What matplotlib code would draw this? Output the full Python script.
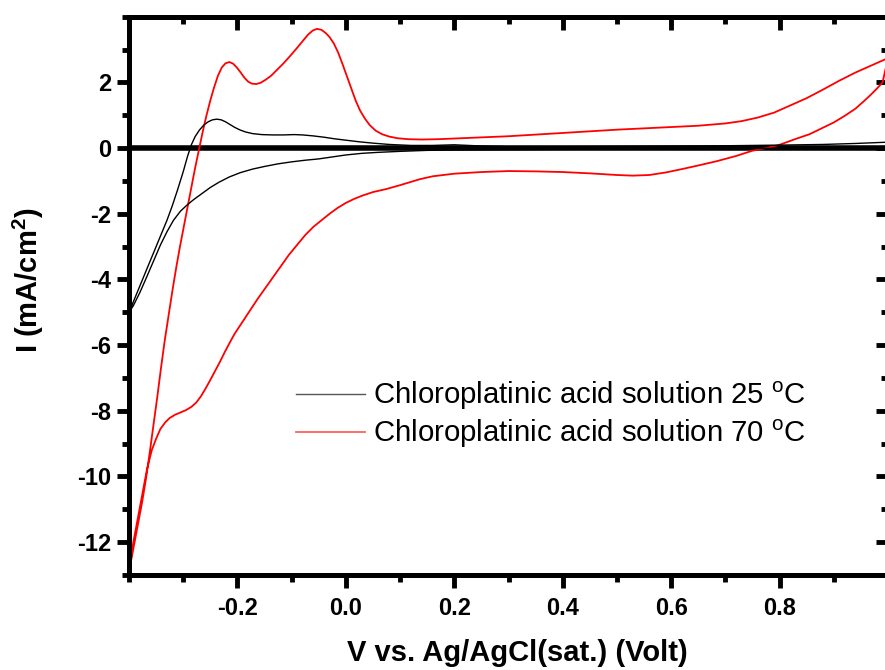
import matplotlib
matplotlib.use("Agg")
import matplotlib.pyplot as plt
from matplotlib.ticker import MultipleLocator, FixedLocator

plt.rcParams['font.family'] = ['Liberation Sans', 'DejaVu Sans']
plt.rcParams['mathtext.fontset'] = 'custom'
plt.rcParams['mathtext.rm'] = 'Liberation Sans'
plt.rcParams['mathtext.bf'] = 'Liberation Sans:bold'
plt.rcParams['mathtext.it'] = 'Liberation Sans:italic'
plt.rcParams['axes.unicode_minus'] = False

# 25 C curve, anodic sweep (-0.4 -> 1.0)
black_fwd_v = [-0.400, -0.390, -0.380, -0.370, -0.360, -0.350, -0.340, -0.330, -0.320, -0.310,
               -0.300, -0.292, -0.285, -0.278, -0.270, -0.262, -0.254, -0.246, -0.238, -0.230,
               -0.222, -0.214, -0.205, -0.195, -0.185, -0.172, -0.155, -0.135, -0.115, -0.095,
               -0.080, -0.060, -0.040, -0.020, 0.000, 0.025, 0.050, 0.080, 0.120, 0.160,
               0.200, 0.240, 0.300, 0.400, 0.500, 0.600, 0.700, 0.800, 0.880, 0.940, 1.000]
black_fwd_i = [-5.0, -4.6, -4.2, -3.8, -3.4, -3.0, -2.6, -2.2, -1.75, -1.25,
               -0.72, -0.25, 0.1, 0.35, 0.55, 0.7, 0.8, 0.86, 0.88, 0.86,
               0.8, 0.72, 0.63, 0.55, 0.49, 0.44, 0.41, 0.40, 0.40, 0.41,
               0.40, 0.37, 0.33, 0.28, 0.24, 0.19, 0.15, 0.11, 0.08, 0.08,
               0.10, 0.07, 0.04, 0.04, 0.05, 0.06, 0.07, 0.09, 0.11, 0.14, 0.18]
# 25 C curve, cathodic sweep (1.0 -> -0.4)
black_rev_v = [1.000, 0.900, 0.800, 0.600, 0.400, 0.300, 0.200, 0.150, 0.100, 0.060,
               0.030, 0.000, -0.025, -0.050, -0.075, -0.100, -0.125, -0.150, -0.172, -0.195,
               -0.215, -0.234, -0.250, -0.265, -0.280, -0.292, -0.305, -0.318, -0.330, -0.342,
               -0.355, -0.368, -0.380, -0.392, -0.400]
black_rev_i = [0.05, 0.0, -0.01, -0.02, -0.04, -0.05, -0.06, -0.07, -0.10, -0.13,
               -0.16, -0.21, -0.27, -0.33, -0.37, -0.42, -0.48, -0.56, -0.64, -0.75,
               -0.88, -1.04, -1.2, -1.38, -1.56, -1.72, -1.92, -2.2, -2.55, -2.95,
               -3.45, -3.95, -4.4, -4.8, -5.0]

# 70 C curve, anodic sweep
red_fwd_v = [-0.400, -0.392, -0.384, -0.376, -0.369, -0.362, -0.355, -0.348, -0.341, -0.334,
             -0.327, -0.320, -0.313, -0.306, -0.299, -0.292, -0.285, -0.278, -0.271, -0.264,
             -0.257, -0.250, -0.243, -0.236, -0.229, -0.222, -0.215, -0.208, -0.201, -0.194,
             -0.187, -0.180, -0.173, -0.165, -0.157, -0.148, -0.138, -0.127, -0.115, -0.103,
             -0.091, -0.080, -0.070, -0.061, -0.053, -0.045, -0.037, -0.030, -0.022, -0.014,
             -0.006, 0.002, 0.010, 0.018, 0.026, 0.035, 0.044, 0.055, 0.067, 0.080,
             0.095, 0.115, 0.140, 0.170, 0.200, 0.250, 0.300, 0.350, 0.400, 0.450,
             0.500, 0.550, 0.600, 0.650, 0.700, 0.730, 0.760, 0.790, 0.820, 0.850,
             0.880, 0.910, 0.940, 0.970, 1.000]
red_fwd_i = [-12.9, -12.2, -11.5, -10.8, -10.1, -9.3, -8.45, -7.6, -6.7, -5.85,
             -5.1, -4.35, -3.65, -3.0, -2.4, -1.8, -1.2, -0.6, -0.05, 0.5,
             1.0, 1.45, 1.85, 2.2, 2.45, 2.58, 2.62, 2.57, 2.45, 2.3,
             2.14, 2.02, 1.96, 1.95, 1.99, 2.08, 2.2, 2.38, 2.58, 2.8,
             3.03, 3.25, 3.45, 3.58, 3.63, 3.6, 3.5, 3.38, 3.18, 2.9,
             2.55, 2.18, 1.8, 1.45, 1.15, 0.9, 0.7, 0.53, 0.42, 0.35,
             0.30, 0.27, 0.26, 0.27, 0.29, 0.32, 0.36, 0.41, 0.46, 0.51,
             0.56, 0.60, 0.64, 0.68, 0.75, 0.82, 0.93, 1.08, 1.3, 1.52,
             1.78, 2.05, 2.3, 2.52, 2.74]
# 70 C curve, cathodic sweep
red_rev_v = [0.990, 0.980, 0.968, 0.955, 0.940, 0.920, 0.900, 0.880, 0.855, 0.830,
             0.800, 0.776, 0.750, 0.720, 0.684, 0.650, 0.620, 0.591, 0.560, 0.529,
             0.500, 0.450, 0.400, 0.350, 0.300, 0.250, 0.200, 0.160, 0.136, 0.100,
             0.074, 0.050, 0.030, 0.015, 0.000, -0.015, -0.030, -0.045, -0.060, -0.075,
             -0.090, -0.105, -0.120, -0.135, -0.150, -0.163, -0.175, -0.185, -0.195, -0.205,
             -0.215, -0.223, -0.232, -0.240, -0.248, -0.258, -0.267, -0.276, -0.285, -0.295,
             -0.305, -0.315, -0.325, -0.333, -0.342, -0.350, -0.358, -0.367, -0.375, -0.383,
             -0.392, -0.400]
red_rev_i = [2.0, 1.82, 1.62, 1.42, 1.2, 0.98, 0.78, 0.62, 0.42, 0.28,
             0.10, 0.0, -0.08, -0.24, -0.40, -0.53, -0.64, -0.74, -0.82, -0.84,
             -0.82, -0.77, -0.73, -0.71, -0.70, -0.73, -0.78, -0.86, -0.95, -1.13,
             -1.25, -1.34, -1.45, -1.55, -1.67, -1.82, -2.0, -2.2, -2.4, -2.65,
             -2.95, -3.25, -3.6, -3.95, -4.3, -4.6, -4.9, -5.15, -5.4, -5.65,
             -5.95, -6.2, -6.5, -6.75, -7.0, -7.3, -7.55, -7.75, -7.88, -7.98,
             -8.05, -8.12, -8.22, -8.35, -8.55, -8.85, -9.2, -9.8, -10.5, -11.2,
             -12.0, -12.9]

labels = ["Chloroplatinic acid solution 25 $^\\mathrm{o}$C",
          "Chloroplatinic acid solution 70 $^\\mathrm{o}$C"]

fig = plt.figure(figsize=(8.85, 6.7), dpi=100)
ax = fig.add_axes([129/885, 95/670, 759/885, 558.3/670])

ax.axhline(0, color='black', lw=4, zorder=1)
ax.plot(black_fwd_v + black_rev_v, black_fwd_i + black_rev_i, color='black', lw=1.0, zorder=3)
ax.plot(red_fwd_v + red_rev_v, red_fwd_i + red_rev_i, color='red', lw=1.3, zorder=2)

# legend handles only
h1, = ax.plot([], [], color='#555555', lw=1.0)
h2, = ax.plot([], [], color='#ff6060', lw=1.3)
ax.legend([h1, h2], labels, loc='upper left', bbox_to_anchor=(0.22, 0.35),
          frameon=False, fontsize=21.2, handlelength=2.35, handletextpad=0.25,
          labelspacing=0.2, borderpad=0, borderaxespad=0)

ax.set_xlim(-0.4, 1.0)
ax.set_ylim(-13, 4)

ax.xaxis.set_major_locator(FixedLocator([-0.2, 0.0, 0.2, 0.4, 0.6, 0.8]))
ax.xaxis.set_minor_locator(MultipleLocator(0.1))
ax.yaxis.set_major_locator(FixedLocator([-12, -10, -8, -6, -4, -2, 0, 2]))
ax.yaxis.set_minor_locator(MultipleLocator(1))
ax.set_xticklabels(["-0.2", "0.0", "0.2", "0.4", "0.6", "0.8"])
ax.set_yticklabels(["-12", "-10", "-8", "-6", "-4", "-2", "0", "2"])

for s in ax.spines.values():
    s.set_linewidth(3.6)
ax.tick_params(which='major', direction='out', length=9, width=3.5, labelsize=17, pad=4)
ax.tick_params(which='minor', direction='out', length=5, width=3.5)
ax.tick_params(axis='x', which='major', pad=7)
for t in ax.get_xticklabels() + ax.get_yticklabels():
    t.set_fontweight('bold')

# inward ticks on top and right
top = ax.secondary_xaxis('top')
top.xaxis.set_major_locator(MultipleLocator(0.2))
top.xaxis.set_minor_locator(MultipleLocator(0.1))
top.tick_params(which='major', direction='in', length=9, width=3.5, labeltop=False)
top.tick_params(which='minor', direction='in', length=5, width=3.5)
top.spines['top'].set_linewidth(3.6)
right = ax.secondary_yaxis('right')
right.yaxis.set_major_locator(MultipleLocator(2))
right.yaxis.set_minor_locator(MultipleLocator(1))
right.tick_params(which='major', direction='in', length=9, width=3.5, labelright=False)
right.tick_params(which='minor', direction='in', length=5, width=3.5)
right.spines['right'].set_linewidth(3.6)

ax.set_xlabel("V vs. Ag/AgCl(sat.) (Volt)", fontsize=21, fontweight='bold')
ax.set_ylabel("I (mA/cm$^\\mathbf{2}$)", fontsize=21, fontweight='bold')
ax.xaxis.set_label_coords(0.512, -0.115)
ax.yaxis.set_label_coords(-0.11, 0.528)

fig.savefig("out.png", dpi=100)
